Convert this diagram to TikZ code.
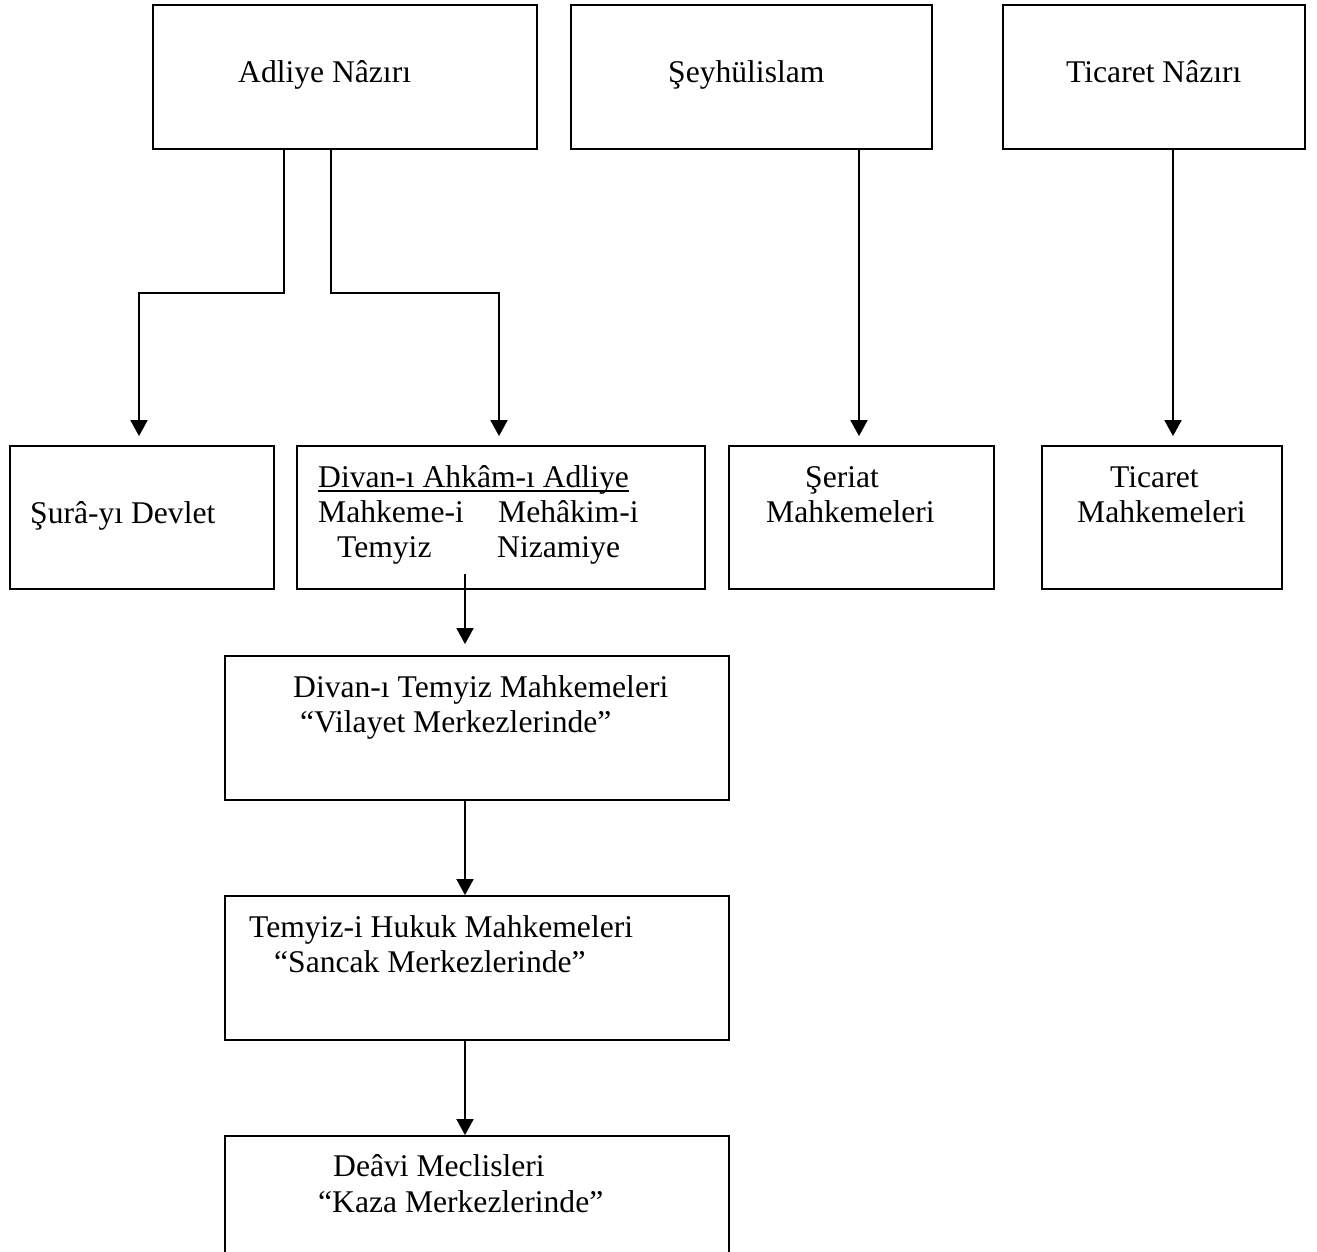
\documentclass[tikz,border=0pt]{standalone}
\usepackage{fontspec}
\setmainfont{Liberation Serif}
\usetikzlibrary{arrows.meta}
\begin{document}
\begin{tikzpicture}[x=1pt,y=-1pt,
  box/.style={draw, line width=1.8pt, inner sep=0pt},
  conn/.style={line width=1.8pt},
  arr/.style={conn, -{Triangle[width=17pt,length=16pt]}},
  txt/.style={anchor=base west, inner sep=0pt, font=\fontsize{31.6}{36}\selectfont}]
\useasboundingbox (0,0) rectangle (1317,1252);
\clip (0,0) rectangle (1317,1252);
% boxes
\node[box, minimum width=384pt, minimum height=144pt] (adliye) at (345,77) {};
\node[box, minimum width=361pt, minimum height=144pt] (seyh) at (751.5,77) {};
\node[box, minimum width=302pt, minimum height=144pt] (ticn) at (1154,77) {};
\node[box, minimum width=264pt, minimum height=143pt] (sura) at (142,517.5) {};
\node[box, minimum width=408pt, minimum height=143pt] (ahkam) at (501,517.5) {};
\node[box, minimum width=265pt, minimum height=143pt] (seriat) at (861.5,517.5) {};
\node[box, minimum width=240pt, minimum height=143pt] (ticm) at (1162,517.5) {};
\node[box, minimum width=504pt, minimum height=144pt] (divt) at (477,728) {};
\node[box, minimum width=504pt, minimum height=144pt] (hukuk) at (477,968) {};
\node[box, minimum width=504pt, minimum height=144pt] (deavi) at (477,1208) {};
% texts
\node[txt] (t1) at (238,83) {Adliye Nâzırı};
\node[txt] (t2) at (668,83) {Şeyhülislam};
\node[txt] (t3) at (1066,83) {Ticaret Nâzırı};
\node[txt] (t4) at (30,523) {Şurâ-yı Devlet};
\node[txt] (t5) at (318,487) {Divan-ı Ahkâm-ı Adliye};
\draw[line width=1.8pt] ([yshift=-4pt]t5.base west) -- ([yshift=-4pt]t5.base east);
\node[txt] (t6) at (318,522) {Mahkeme-i};
\node[txt] (t7) at (498,522) {Mehâkim-i};
\node[txt] (t8) at (337,557) {Temyiz};
\node[txt] (t9) at (497,557) {Nizamiye};
\node[txt] (t10) at (805,487) {Şeriat};
\node[txt] (t11) at (766,522) {Mahkemeleri};
\node[txt] (t12) at (1110,487) {Ticaret};
\node[txt] (t13) at (1077,522) {Mahkemeleri};
\node[txt] (t14) at (293,697) {Divan-ı Temyiz Mahkemeleri};
\node[txt] (t15) at (300,732) {“Vilayet Merkezlerinde”};
\node[txt] (t16) at (249,937) {Temyiz-i Hukuk Mahkemeleri};
\node[txt] (t17) at (274,972) {“Sancak Merkezlerinde”};
\node[txt] (t18) at (333,1176) {Deâvi Meclisleri};
\node[txt] (t19) at (318,1212) {“Kaza Merkezlerinde”};
% connectors
\coordinate (j1) at (284,293);
\coordinate (j2) at (331,293);
\draw[arr, shorten >=9pt] (adliye.south -| j1) -- (j1) -| ([xshift=-3pt]sura.north);
\draw[arr, shorten >=9pt] (adliye.south -| j2) -- (j2) -| ([xshift=-2pt]ahkam.north);
\draw[arr, shorten >=9pt] ([xshift=-2.5pt]seriat.north |- seyh.south) -- ([xshift=-2.5pt]seriat.north);
\draw[arr, shorten >=9pt] ([xshift=11pt]ticm.north |- ticn.south) -- ([xshift=11pt]ticm.north);
\draw[arr, shorten <=-16pt, shorten >=11pt] ([xshift=-12pt]divt.north |- ahkam.south) -- ([xshift=-12pt]divt.north);
\draw[arr] ([xshift=-12pt]hukuk.north |- divt.south) -- ([xshift=-12pt]hukuk.north);
\draw[arr] ([xshift=-12pt]deavi.north |- hukuk.south) -- ([xshift=-12pt]deavi.north);
\end{tikzpicture}
\end{document}
